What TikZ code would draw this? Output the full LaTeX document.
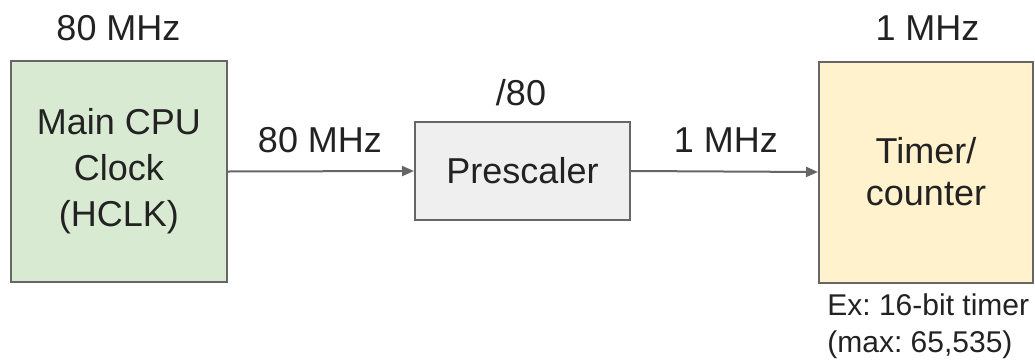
\documentclass[tikz,border=0pt]{standalone}
\usepackage{fontspec}
\setmainfont{Liberation Sans}
\usetikzlibrary{arrows.meta}
\definecolor{gfill}{HTML}{D9EAD3}
\definecolor{pfill}{HTML}{EFEFEF}
\definecolor{yfill}{HTML}{FFF2CC}
\definecolor{edge}{HTML}{666666}
\definecolor{txt}{HTML}{222222}
\tikzset{
  blk/.style={draw=edge, line width=1pt, inner sep=0pt, align=center, text=txt,
    font=\fontsize{18}{23}\selectfont},
  lbl/.style={inner sep=0pt, text=txt, font=\fontsize{18}{20}\selectfont},
  note/.style={inner sep=0pt, text=txt, align=left, font=\frenchspacing\fontsize{15}{18.5}\selectfont},
  conn/.style={draw=edge, line width=1pt, -{Triangle[length=6pt,width=5pt]}}
}
\begin{document}
\begin{tikzpicture}[x=0.5pt,y=-0.5pt]
\useasboundingbox (0,0) rectangle (1035,360);
\node[blk, fill=gfill, minimum width=108pt, minimum height=110.5pt] (clk) at (119,171.5) {Main CPU\\Clock\\(HCLK)};
\node[blk, fill=pfill, minimum width=107.5pt, minimum height=49pt] (pre) at (522.5,171) {Prescaler};
\node[blk, fill=yfill, minimum width=107pt, minimum height=110.5pt, font=\fontsize{18}{21}\selectfont] (tim) at (926,172) {Timer/\\counter};
\node[lbl] (f1) at (118.5,28) {80 MHz};
\node[lbl] (d80) at (521,92.5) {/80};
\node[lbl] (f4) at (927.5,28) {1 MHz};
\node[lbl] (f2) at (320,140) {80 MHz};
\node[lbl] (f3) at (726,140) {1 MHz};
\node[note, anchor=west] (ex) at (827,326.5) {Ex: 16-bit timer\\(max: 65,535)};
\draw[conn] (clk.east) -- (pre.west);
\draw[conn] (pre.east) -- (tim.west);
\end{tikzpicture}
\end{document}
